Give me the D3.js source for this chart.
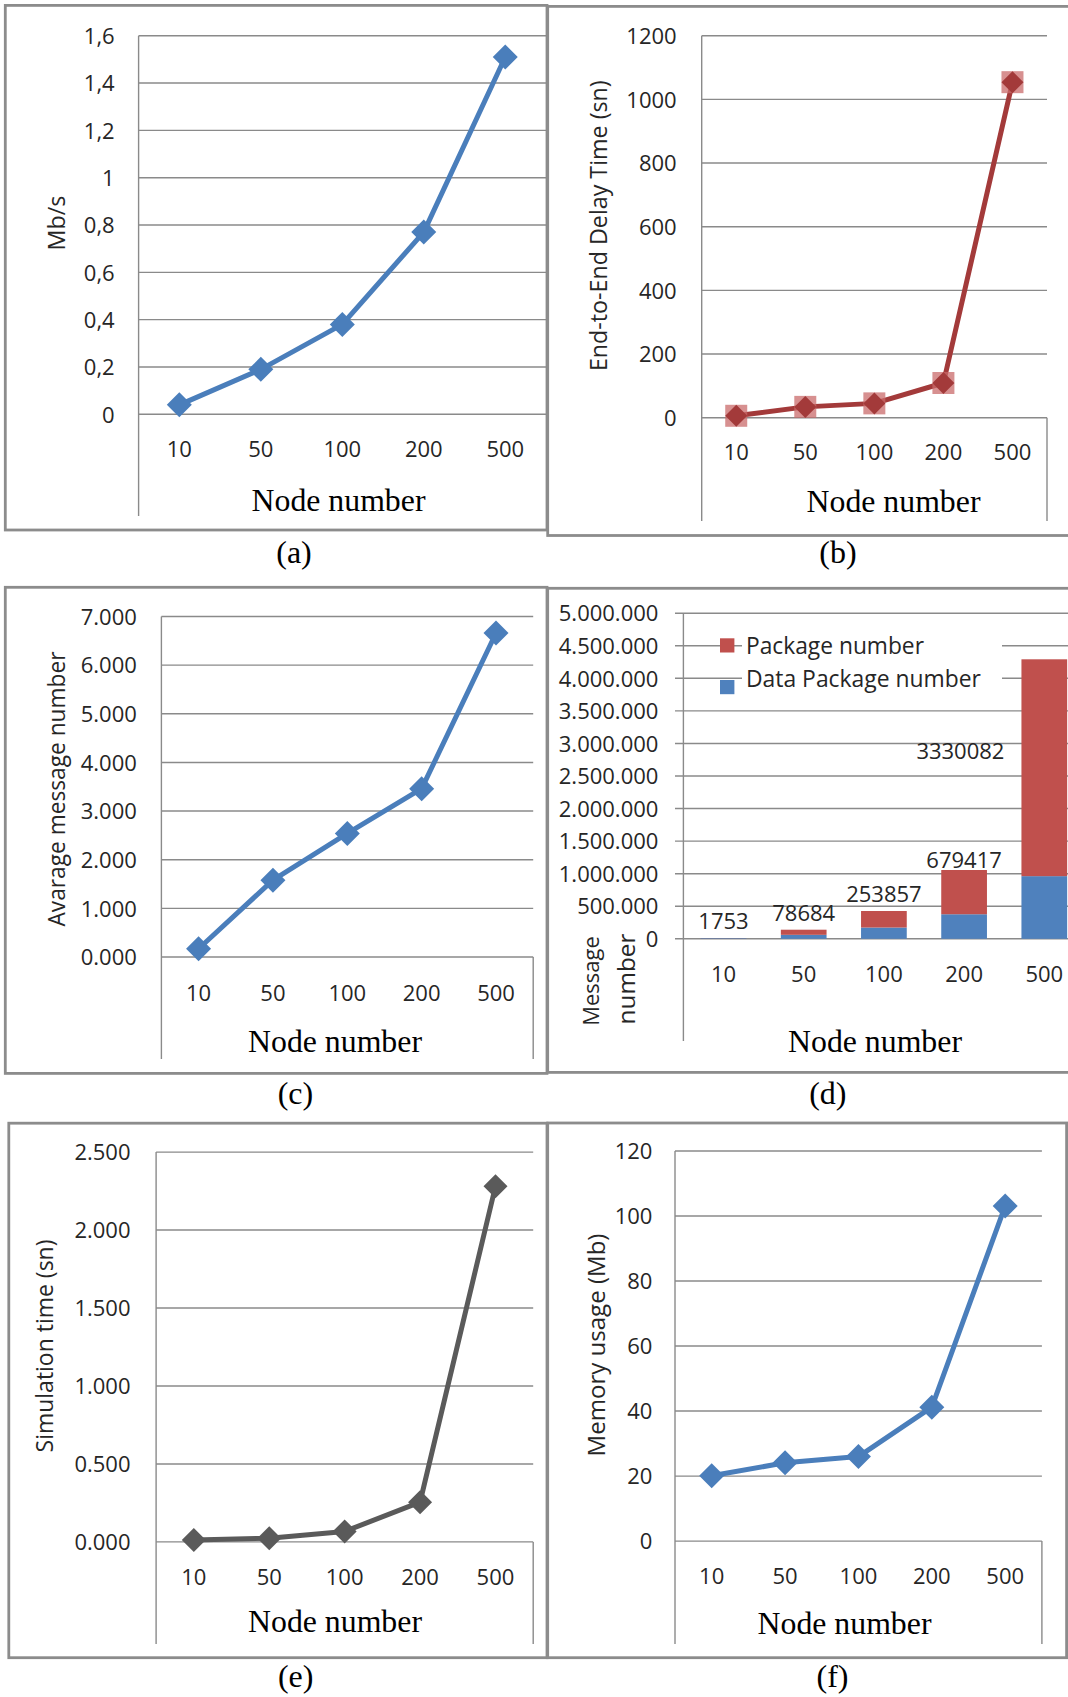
<!DOCTYPE html>
<html><head><meta charset="utf-8">
<script src="https://cdn.jsdelivr.net/npm/d3@7"></script>
<style>html,body{margin:0;padding:0;background:#fff;}svg{display:block;}</style>
</head><body>
<svg id="c" width="1068" height="1697"></svg>
<script>
// ---------------- DATA ----------------
const categories = ["10", "50", "100", "200", "500"];
const throughput = [0.04, 0.19, 0.38, 0.77, 1.51];          // (a) Mb/s
const delayTime = [6, 34, 45, 109, 1054];                   // (b) sn
const avgMessages = [0.17, 1.58, 2.54, 3.46, 6.66];         // (c)
const dataPackages = [9000, 61000, 173000, 377000, 962000]; // (d) blue
const packages = [1753, 78684, 253857, 679417, 3330082];    // (d) red
const simTime = [0.012, 0.024, 0.067, 0.255, 2.281];        // (e) sn
const memoryUsage = [20.1, 24.1, 26.0, 41.2, 103.1];        // (f) Mb

const ticksA = [0, 0.2, 0.4, 0.6, 0.8, 1, 1.2, 1.4, 1.6];
const ticksB = [0, 200, 400, 600, 800, 1000, 1200];
const ticksC = [0, 1, 2, 3, 4, 5, 6, 7];
const ticksD = [0, 500000, 1000000, 1500000, 2000000, 2500000, 3000000, 3500000, 4000000, 4500000, 5000000];
const ticksE = [0, 0.5, 1, 1.5, 2, 2.5];
const ticksF = [0, 20, 40, 60, 80, 100, 120];
const legendLabels = ["Package number", "Data Package number"];
const captions = ["(a)", "(b)", "(c)", "(d)", "(e)", "(f)"];

// ---------------- STYLE ----------------
const svg = d3.select("#c");
const SANS = "'Open Sans', 'Noto Sans', sans-serif";
const SERIF = "'Liberation Serif', 'Times New Roman', serif";
const GRID = "#8a8a8a", BORDER = "#8c8c8c", TXT = "#262626";
const trLocale = d3.formatLocale({decimal: ",", thousands: ".", grouping: [3], currency: ["", ""]});

function fit(sel, target) {
  const n = sel.node();
  const w = n.getComputedTextLength();
  const fs = parseFloat(sel.attr("font-size"));
  sel.attr("font-size", (fs * target / w).toFixed(2));
}
function border(x1, y1, x2, y2) {
  svg.append("rect").attr("x", x1).attr("y", y1).attr("width", x2 - x1).attr("height", y2 - y1)
    .attr("fill", "none").attr("stroke", BORDER).attr("stroke-width", 2.8);
}
function vline(x, y1, y2) {
  svg.append("line").attr("x1", x).attr("x2", x).attr("y1", y1).attr("y2", y2)
    .attr("stroke", GRID).attr("stroke-width", 1.4);
}
function yTitle(text, cx, cy, width) {
  const t = svg.append("text").attr("transform", `translate(${cx},${cy}) rotate(-90)`)
    .attr("text-anchor", "middle").attr("dominant-baseline", "central")
    .attr("font-family", SANS).attr("font-size", 22).attr("fill", TXT).text(text);
  fit(t, width);
}
function serifText(text, cx, cy, size, width) {
  const t = svg.append("text").attr("x", cx).attr("y", cy).attr("text-anchor", "middle")
    .attr("dominant-baseline", "central").attr("font-family", SERIF).attr("font-size", size)
    .attr("fill", "#000").text(text);
  if (width) fit(t, width);
}
function yAxis(y, ticks, fmt, left, gridX1, gridX2, tickRight) {
  svg.append("g").selectAll("line").data(ticks).join("line")
    .attr("x1", gridX1).attr("x2", gridX2).attr("y1", d => y(d)).attr("y2", d => y(d))
    .attr("stroke", GRID).attr("stroke-width", 1.4);
  const ax = svg.append("g").attr("transform", `translate(${left},0)`)
    .call(d3.axisLeft(y).tickValues(ticks).tickFormat(fmt).tickSize(0).tickPadding(left - tickRight));
  ax.select(".domain").remove();
  ax.selectAll("text").attr("font-family", SANS).attr("font-size", 22).attr("fill", TXT).attr("dy", "0.35em");
}
function xAxis(x, catY) {
  const ax = svg.append("g").attr("transform", `translate(0,${catY})`)
    .call(d3.axisBottom(x).tickSize(0).tickPadding(0));
  ax.select(".domain").remove();
  ax.selectAll("text").attr("font-family", SANS).attr("font-size", 22).attr("fill", TXT)
    .attr("y", 0).attr("dy", "0.35em");
}
const diamond = r => `M0,${-r}L${r},0L0,${r}L${-r},0Z`;

function linePanel(c) {
  border(c.box[0], c.box[1], c.box[2], c.box[3]);
  const x = d3.scaleBand().domain(categories).range([c.left, c.right]);
  const y = d3.scaleLinear().domain([0, c.yMax]).range([c.zero, c.top]);
  yAxis(y, c.ticks, c.fmt, c.left, c.left, c.gridRight, c.tickRight);
  vline(c.left, c.top, c.axisBottom);
  if (c.rightLine) vline(c.right, c.zero, c.axisBottom);
  xAxis(x, c.catY);
  const cx = (d, i) => x(categories[i]) + x.bandwidth() / 2;
  svg.append("path").datum(c.values)
    .attr("d", d3.line().x(cx).y(d => y(d)))
    .attr("fill", "none").attr("stroke", c.color).attr("stroke-width", 5).attr("stroke-linejoin", "round");
  const m = svg.append("g").selectAll("g").data(c.values).join("g")
    .attr("transform", (d, i) => `translate(${cx(d, i)},${y(d)})`);
  if (c.square) {
    m.append("rect").attr("x", -11).attr("y", -11).attr("width", 22).attr("height", 22)
      .attr("fill", c.square).attr("opacity", 0.75);
  }
  m.append("path").attr("d", diamond(c.r)).attr("fill", c.color);
  yTitle(c.title, c.titleX, c.titleY, c.titleW);
  serifText("Node number", c.nodeX, c.nodeY, 31, 174);
  serifText(c.caption, c.capX, c.capY, 32);
}

// (a)
linePanel({box: [5.3, 5.4, 547, 530], left: 138.6, right: 546, gridRight: 547, top: 35.7, zero: 414.3,
  axisBottom: 516, rightLine: false, tickRight: 114.7, catY: 449, yMax: 1.6, ticks: ticksA,
  fmt: trLocale.format("~g"), values: throughput, color: "#4a7ebb", r: 12.5,
  title: "Mb/s", titleX: 56, titleY: 223, titleW: 55, nodeX: 338.5, nodeY: 500,
  caption: captions[0], capX: 294, capY: 552});
// (b)
linePanel({box: [547.7, 6.4, 1080, 535.5], left: 701.7, right: 1047, gridRight: 1047, top: 35.7, zero: 417.7,
  axisBottom: 521, rightLine: true, tickRight: 676.7, catY: 452.7, yMax: 1200, ticks: ticksB,
  fmt: d3.format("d"), values: delayTime, color: "#a33a3a", r: 11, square: "#c96b6b",
  title: "End-to-End Delay Time (sn)", titleX: 598.4, titleY: 225.7, titleW: 291, nodeX: 893.5, nodeY: 501.6,
  caption: captions[1], capX: 838, capY: 552});
// (c)
linePanel({box: [5.3, 587.3, 547, 1073.4], left: 161.4, right: 533.2, gridRight: 533.2, top: 616.5, zero: 957,
  axisBottom: 1059, rightLine: true, tickRight: 136.8, catY: 992.8, yMax: 7, ticks: ticksC,
  fmt: d3.format(".3f"), values: avgMessages, color: "#4a7ebb", r: 12.5,
  title: "Avarage message number", titleX: 56, titleY: 789, titleW: 275, nodeX: 335, nodeY: 1041,
  caption: captions[2], capX: 295.4, capY: 1093});
// (e)
linePanel({box: [8.8, 1123.2, 547, 1657.7], left: 156.1, right: 533.2, gridRight: 533.2, top: 1152.1, zero: 1541.9,
  axisBottom: 1644, rightLine: true, tickRight: 130.5, catY: 1577, yMax: 2.5, ticks: ticksE,
  fmt: d3.format(".3f"), values: simTime, color: "#5a5a5a", r: 12,
  title: "Simulation time (sn)", titleX: 43.9, titleY: 1346, titleW: 213, nodeX: 335, nodeY: 1621.7,
  caption: captions[4], capX: 295.7, capY: 1676});
// (f)
linePanel({box: [547.7, 1123, 1066.6, 1657.7], left: 675, right: 1041.9, gridRight: 1041.9, top: 1151, zero: 1541.1,
  axisBottom: 1644, rightLine: true, tickRight: 652.4, catY: 1576.4, yMax: 120, ticks: ticksF,
  fmt: d3.format("d"), values: memoryUsage, color: "#4a7ebb", r: 12.5,
  title: "Memory usage  (Mb)", titleX: 595, titleY: 1345, titleW: 223, nodeX: 844.5, nodeY: 1623.6,
  caption: captions[5], capX: 832.5, capY: 1676});

// (d) stacked bars
(function () {
  border(547.7, 588.3, 1080, 1072.4);
  const left = 683.4, zero = 938.8, top = 613.2;
  const x = d3.scaleBand().domain(categories).range([left, left + 401]).paddingInner(0.43).paddingOuter(0.215);
  const y = d3.scaleLinear().domain([0, 5000000]).range([zero, top]);
  yAxis(y, ticksD, trLocale.format(","), left, 675, 1068, 658.4);
  vline(left, top, 1041);
  xAxis(x, 974.6);
  const rows = categories.map((c, i) => ({cat: c, data: dataPackages[i], pkg: packages[i]}));
  const series = d3.stack().keys(["data", "pkg"])(rows);
  const colors = {data: "#4f81bd", pkg: "#c0504d"};
  svg.append("g").selectAll("g").data(series).join("g").attr("fill", s => colors[s.key])
    .selectAll("rect").data(s => s).join("rect")
    .attr("x", d => x(d.data.cat)).attr("width", x.bandwidth())
    .attr("y", d => y(d[1])).attr("height", d => y(d[0]) - y(d[1]));
  // data labels (Package number)
  rows.forEach((r, i) => {
    const last = i === rows.length - 1;
    const t = svg.append("text").attr("font-family", SANS).attr("font-size", 22).attr("fill", TXT)
      .attr("dominant-baseline", "central").text(r.pkg);
    if (last) {
      t.attr("text-anchor", "end").attr("x", x(r.cat) - 17).attr("y", y(r.data + r.pkg * 0.58));
    } else {
      t.attr("text-anchor", "middle").attr("x", x(r.cat) + x.bandwidth() / 2)
        .attr("y", y(r.data + r.pkg) - (i === 3 ? 11 : 18));
    }
  });
  // legend
  svg.append("rect").attr("x", 742).attr("y", 634.7).attr("width", 260).attr("height", 56.3).attr("fill", "#fff");
  const lg = [{c: "#c0504d", sy: 638.3, ty: 645.5}, {c: "#4f81bd", sy: 680, ty: 678}];
  lg.forEach((l, i) => {
    svg.append("rect").attr("x", 720).attr("y", l.sy).attr("width", 14.4).attr("height", 14.2).attr("fill", l.c);
    const t = svg.append("text").attr("x", 746).attr("y", l.ty).attr("dominant-baseline", "central")
      .attr("font-family", SANS).attr("font-size", 22).attr("fill", TXT).text(legendLabels[i]);
    fit(t, i === 0 ? 178 : 235);
  });
  // y title: two lines
  [["Message", 590, 981, 89.5], ["number", 625, 979, 91]].forEach(a => yTitle(a[0], a[1], a[2], a[3]));
  serifText("Node number", 875, 1041, 31, 174);
  serifText(captions[3], 827.8, 1093, 32);
})();
</script>
</body></html>
